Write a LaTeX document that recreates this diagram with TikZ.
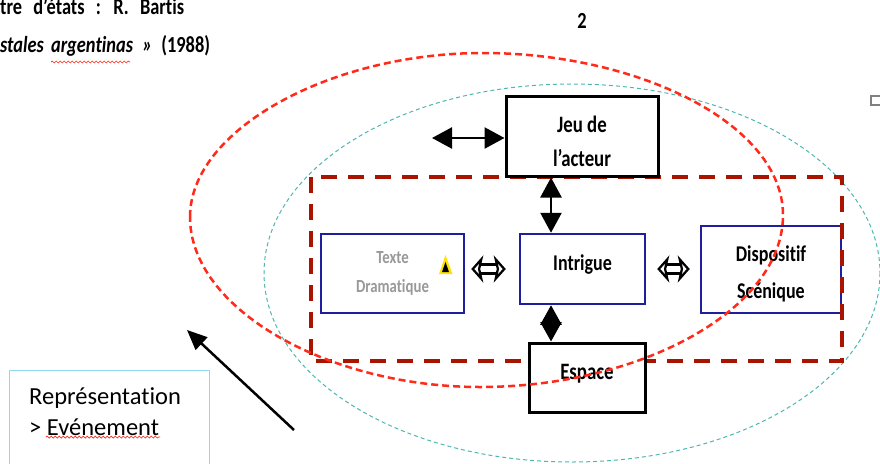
\documentclass[tikz,border=0pt]{standalone}
\usepackage{fontspec}
\setmainfont[Ligatures=NoCommon]{Carlito}
\newfontfamily\gillfont[FakeStretch=0.8, Ligatures=NoCommon]{Carlito}
\usetikzlibrary{arrows.meta, decorations.pathmorphing, positioning}

\definecolor{boxblue}{HTML}{1F1F9E}
\definecolor{framered}{HTML}{A81400}
\definecolor{ovalred}{HTML}{FF2A1A}
\definecolor{ovalteal}{HTML}{4DB8B0}
\definecolor{legendblue}{HTML}{8FD8EE}

\newcommand{\shifttext}[2]{\raisebox{#1}[\height][\depth]{#2}}

\tikzset{
	blackbox/.style={draw=black, line width=3pt, fill=white, align=center, inner sep=0pt, font=\gillfont\fontsize{23.5}{34}\selectfont\bfseries},
	bluebox/.style={draw=boxblue, line width=2.5pt, fill=white, align=center, inner sep=0pt, font=\gillfont\fontsize{22.5}{37}\selectfont\bfseries},
	solidarrow/.style={line width=2.5pt, {Triangle[length=20pt,width=21pt]}-{Triangle[length=20pt,width=21pt]}},
	openarrow/.style={double, double distance=6.5pt, line width=2.5pt, {Stealth[open, fill=white, length=12pt, width=27pt, inset=3pt, line width=2.5pt]}-{Stealth[open, fill=white, length=12pt, width=27pt, inset=3pt, line width=2.5pt]}},
	headtext/.style={anchor=base west, inner sep=0pt, font=\gillfont\fontsize{23}{23}\selectfont\bfseries},
	legendtext/.style={anchor=base west, inner sep=0pt, font=\fontsize{24.5}{24.5}\selectfont},
	squiggle/.style={ovalred, line width=0.7pt, decorate, decoration={snake, amplitude=1pt, segment length=4pt}}
}

\begin{document}
\begin{tikzpicture}[x=1pt, y=-1pt]
		
		\clip (0,0) rectangle (880,463);
		\fill[white] (0,0) rectangle (880,463);
		
		% Heading cut off by the page
		\node[headtext] (titleone) at (0,14.5) {tre\hspace{7pt} d’états\hspace{7pt} :\hspace{7pt} R.\hspace{7pt} Bartis};
		\node[headtext] (titletwo) at (0,52) {\textit{stales\hspace{3pt} argentinas\hspace{5pt} »}\hspace{5pt} (1988)};
		\draw[squiggle] (51,62) -- (130,62);
		\node[font=\gillfont\fontsize{23}{23}\selectfont\bfseries] (pagenum) at (582,21) {2};
		
		% Small square on the edge
		\draw[gray, line width=1.5pt] (871,96) rectangle (890,105);
		
		% Teal oval
		\draw[ovalteal, line width=1pt, dash pattern=on 4pt off 3pt] (572,273) ellipse [x radius=308, y radius=189];
		
		% Boxes and dashed frame
		\node[bluebox, minimum width=140pt, minimum height=87pt] (dispositif) at (771,269.5) {\shifttext{-4pt}{Dispositif}\\\shifttext{-4pt}{Scénique}};
		\draw[framered, line width=4pt, dash pattern=on 16pt off 11pt] (311,177) rectangle (842,361);
		\node[blackbox, minimum width=152pt, minimum height=80pt] (jeu) at (582,136) {\shifttext{-5pt}{Jeu de}\\\shifttext{-5pt}{l’acteur}};
		\node[bluebox, minimum width=125pt, minimum height=70pt] (intrigue) at (582.5,269) {\shifttext{4pt}{Intrigue}};
		\node[bluebox, minimum width=143pt, minimum height=79pt, text=gray!80, font=\gillfont\fontsize{18.5}{29}\selectfont\bfseries] (texte) at (392.5,273.5) {Texte\\Dramatique};
		\node[blackbox, minimum width=116pt, minimum height=69pt] (espace) at (587,377.5) {\shifttext{4pt}{Espace}};
		
		% Warning sign
		\fill[yellow!85!orange] (445.5,255) -- (452.5,274) -- (439,274) -- cycle;
		\fill[black] (445.5,262) -- (449,272) -- (442,272) -- cycle;
		
		% Red oval
		\draw[ovalred, line width=2.5pt, dash pattern=on 7pt off 4pt] (190,217)
		.. controls (190,130) and (330,53) .. (483,53)
		.. controls (640,53) and (783,125) .. (783,215)
		.. controls (783,310) and (640,387) .. (480,387)
		.. controls (330,387) and (190,310) .. cycle;
		
		% Connectors
		\coordinate (jeufree) at (432,138);
		\draw[solidarrow] (jeufree) -- (jeu.west |- jeufree);
		\draw[solidarrow] ([xshift=-31pt]jeu.south) -- ([xshift=-31.5pt]intrigue.north);
		\draw[line width=2.5pt, {Triangle[length=19.5pt,width=21pt]}-{Triangle[length=19.5pt,width=21pt]}] ([xshift=-31.5pt]intrigue.south) -- ([xshift=-36pt]espace.north);
		\draw[openarrow, shorten <=6pt, shorten >=13pt] (intrigue.west -| texte.east) -- (intrigue.west);
		\draw[openarrow, shorten <=11pt, shorten >=10pt] (intrigue.east) -- (intrigue.east -| dispositif.west);
		
		% Legend box and its arrow
		\node[draw=legendblue, line width=1pt, anchor=north west, minimum width=200pt, minimum height=110pt, inner sep=0pt] (legend) at (9,370) {};
		\node[legendtext] (repres) at (29,404) {Représentation};
		\node[legendtext] (event) at (29,435) {> Evénement};
		\draw[squiggle] (46,437) -- (160,437);
		\coordinate (arrowstart) at (294,430);
		\coordinate (arrowend) at (187,330);
		\draw[line width=2.5pt, -{Triangle[length=20pt,width=17pt]}] (arrowstart) -- (arrowend);
		
\end{tikzpicture}
\end{document}
